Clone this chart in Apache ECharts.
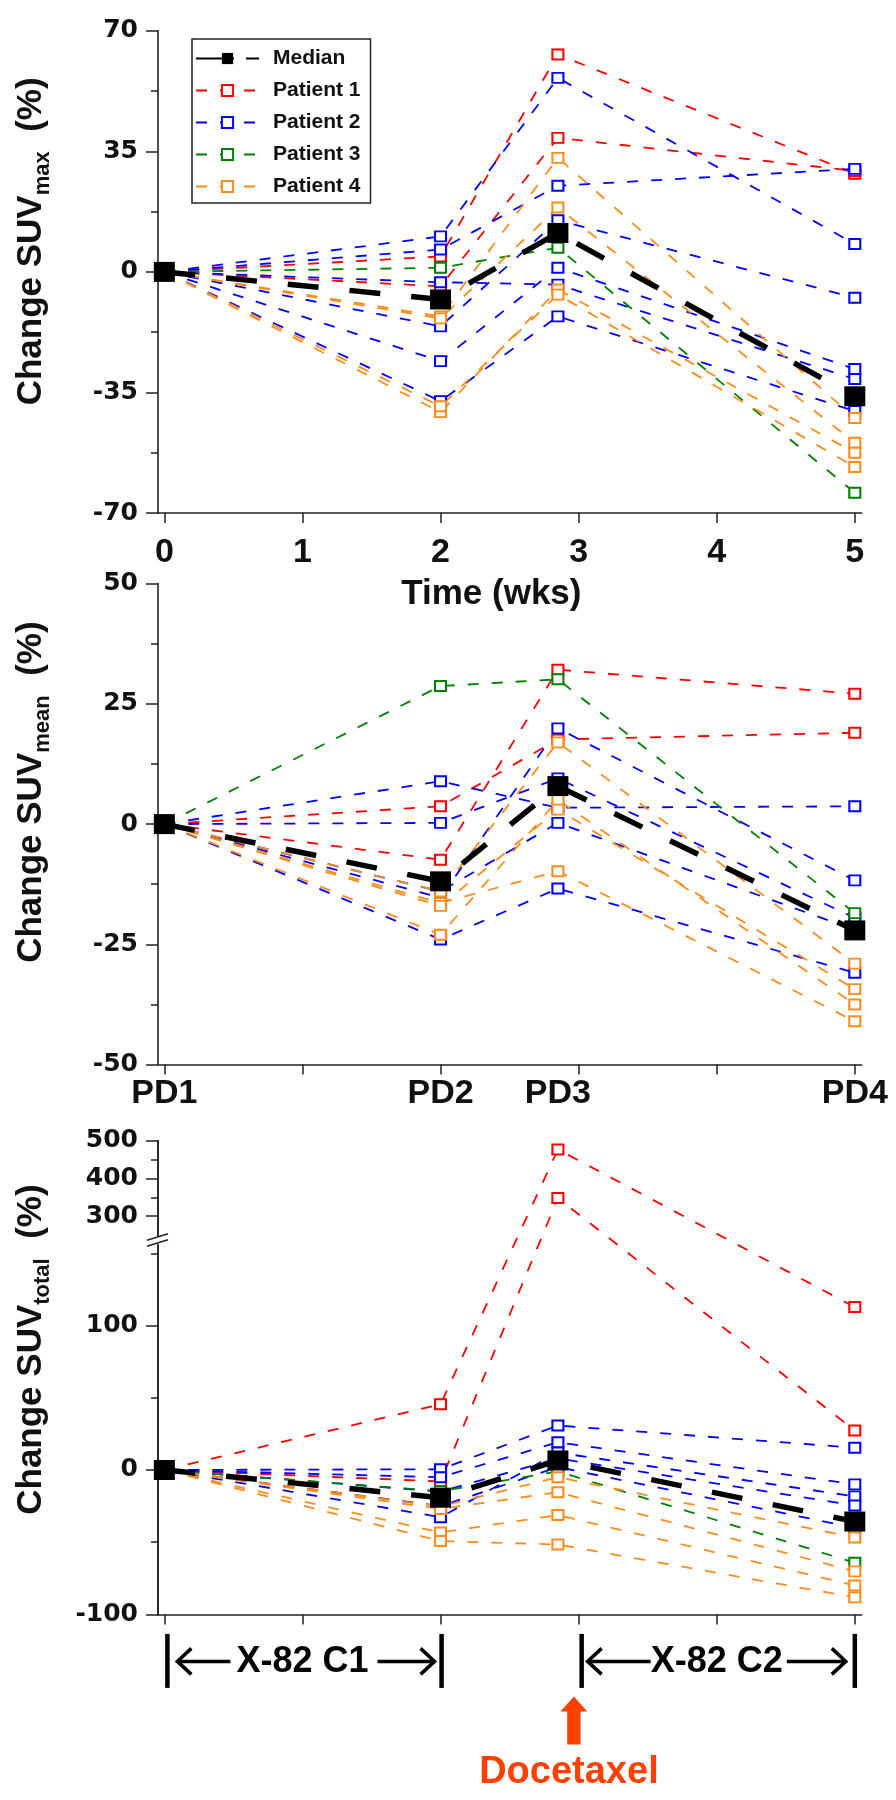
<!DOCTYPE html>
<html><head><meta charset="utf-8">
<script src="https://cdn.jsdelivr.net/npm/echarts@6/dist/echarts.min.js"></script>
<style>html,body{margin:0;padding:0;background:#fff}#c{width:896px;height:1800px}</style>
</head><body><div id="c"></div>
<script>
// ---------- data ----------
const weeks = [0, 2, 2.85, 5];
const weekTicks = [0, 1, 2, 3, 4, 5];
const visitLabels = ['PD1', 'PD2', 'PD3', 'PD4'];

// SUVmax change (%)
const maxMedian = [0, -8, 11.3, -36.1];
const maxP1 = [[0, 4.5, 63.1, 28.5], [0, -4.2, 38.9, 29.3]];
const maxP2 = [[0, 10.3, 56.3, 8.1], [0, 6.5, 25, 29.9], [0, -15.8, 15, -7.5], [0, -25.9, 1.2, -28.2], [0, -3, -3.7, -31.1], [0, -37.5, -12.9, -40.4]];
const maxP3 = [[0, 1.2, 7, -64.1]];
const maxP4 = [[0, -12.9, 33.1, -42.4], [0, -13.5, 18.7, -49.6], [0, -40.7, -5.1, -52.5], [0, -39, -6.6, -56.6]];

// SUVmean change (%)
const meanMedian = [0, -11.9, 7.9, -22.1];
const meanP1 = [[0, -7.4, 32.1, 27.1], [0, 3.7, 17.6, 19]];
const meanP2 = [[0, -15.3, 19.9, -11.7], [0, 0.25, 9.5, -19.5], [0, 8.9, 3.4, 3.7], [0, -14, 0.25, -22], [0, -24, -13.4, -30.9]];
const meanP3 = [[0, 28.7, 30.1, -18.5]];
const meanP4 = [[0, -14, 17, -29], [0, -16.4, -9.8, -41], [0, -23, 5, -37.5], [0, -17, 3, -34.3]];

// SUVtotal change (%)
const totMedian = [0, -19.2, 6.6, -35.7];
const totP1 = [[0, 45.5, 477, 112.8], [0, -8, 348, 27.3]];
const totP2 = [[0, 0.5, 30.8, 15.4], [0, -5, 19.2, -10], [0, -32.7, 12, -18.3], [0, -15, 8, -24.6], [0, -25, 2, -40]];
const totP3 = [[0, -14.7, -1, -64.2]];
const totP4 = [[0, -25.2, -5, -46.8], [0, -27, -15.4, -70.2], [0, -43.3, -31.2, -80], [0, -49.2, -51.6, -88.2]];

const maxTicks = [-70, -35, 0, 35, 70];
const meanTicks = [-50, -25, 0, 25, 50];
const totTicks = [-100, 0, 100, 300, 400, 500];
const totMinorTicks = [-50, 50, 150, 350, 450];

// ---------- broken-axis scale for SUVtotal ----------
const BRK_LO = 150, BRK_HI = 250, BRK_GAP = 12.7, UPPER_K = 0.2609;
const toAxis = v => v <= BRK_LO ? v : BRK_LO + BRK_GAP + (v - BRK_HI) * UPPER_K;
const fromAxis = d => d <= BRK_LO ? d : BRK_HI + (d - BRK_LO - BRK_GAP) / UPPER_K;

// ---------- styles ----------
const COLORS = { p1: '#ff0000', p2: '#0000ff', p3: '#008000', p4: '#ff8c1a' };
const DV = 'DejaVu Sans';
const LIB = 'Liberation Sans';
const AX = '#222';

const chart = echarts.init(document.getElementById('c'), null, { renderer: 'canvas' });

function lesionSeries(name, color, lesions, idx, map) {
  return lesions.map(l => ({
    type: 'line', name, xAxisIndex: idx, yAxisIndex: idx,
    data: weeks.map((w, i) => [w, map(l[i])]),
    symbol: 'emptyRect', symbolSize: [11, 10], showSymbol: true,
    lineStyle: { color, width: 1.8, type: [11, 13] },
    itemStyle: { color, borderColor: color, borderWidth: 1.5 },
    z: 2, clip: false, silent: true
  }));
}
function medianSeries(vals, idx, map) {
  return {
    type: 'line', name: 'Median', xAxisIndex: idx, yAxisIndex: idx,
    data: weeks.map((w, i) => [w, map(vals[i])]),
    symbol: 'rect', symbolSize: [21, 20],
    lineStyle: { color: '#000', width: 5.5, type: [31, 31] },
    itemStyle: { color: '#000' }, z: 5, clip: false, silent: true
  };
}
const id = v => v;

const panels = [
  { med: maxMedian, p: [maxP1, maxP2, maxP3, maxP4], map: id },
  { med: meanMedian, p: [meanP1, meanP2, meanP3, meanP4], map: id },
  { med: totMedian, p: [totP1, totP2, totP3, totP4], map: toAxis }
];
let series = [];
panels.forEach((pn, idx) => {
  series = series.concat(
    lesionSeries('Patient 1', COLORS.p1, pn.p[0], idx, pn.map),
    lesionSeries('Patient 2', COLORS.p2, pn.p[1], idx, pn.map),
    lesionSeries('Patient 3', COLORS.p3, pn.p[2], idx, pn.map),
    lesionSeries('Patient 4', COLORS.p4, pn.p[3], idx, pn.map),
    [medianSeries(pn.med, idx, pn.map)]
  );
});
// empty series that activates the overlay grid holding the minor ticks
series.push({ type: 'line', name: '_minor', xAxisIndex: 3, yAxisIndex: 3, data: [], silent: true, showSymbol: false });

const gridL = 158, gridW = 703.7;
const totGrid = { left: gridL, top: 1140.8, width: gridW, height: 473.6 };
const grids = [
  { left: gridL, top: 30.7, width: gridW, height: 482.4 },
  { left: gridL, top: 583.6, width: gridW, height: 481 },
  totGrid,
  Object.assign({}, totGrid)
];

const axisLine = { show: true, onZero: false, lineStyle: { color: AX, width: 1.6 } };
const tickStyle = { color: AX, width: 1.5 };
const font = (fam, size) => ({ fontFamily: fam, fontWeight: 'bold', fontSize: size, color: '#111' });

function xAxisCfg(idx, labelCfg) {
  return {
    type: 'value', gridIndex: idx, min: -0.046, max: 5.05,
    axisLine, splitLine: { show: false },
    axisTick: { show: true, customValues: weekTicks, length: 10, lineStyle: tickStyle },
    axisLabel: labelCfg
  };
}
const xAxes = [
  Object.assign(xAxisCfg(0, Object.assign({ customValues: weekTicks, margin: 23 }, font(LIB, 34))), {
    name: 'Time (wks)', nameLocation: 'middle', nameGap: 64,
    nameTextStyle: Object.assign({ padding: [0, 37, 0, 0] }, font(LIB, 35))
  }),
  xAxisCfg(1, Object.assign({ customValues: weeks, margin: 12,
    formatter: v => visitLabels[weeks.indexOf(v)] }, font(LIB, 34))),
  xAxisCfg(2, { show: false }),
  { type: 'value', gridIndex: 3, min: -0.046, max: 5.05, show: false }
];

function yName(sub) {
  return '{a|Change SUV}{b|' + sub + '}{a|  (%)}';
}
const nameRich = {
  a: font(LIB, 35),
  b: Object.assign(font(LIB, 22), { verticalAlign: 'bottom', padding: [0, 0, -5, 0] })
};

const yAxes = [
  {
    type: 'value', gridIndex: 0, min: -70, max: 70, interval: 35,
    axisLine, splitLine: { show: false },
    axisTick: { show: true, length: 12, lineStyle: tickStyle },
    minorTick: { show: true, splitNumber: 2, length: 7, lineStyle: tickStyle },
    axisLabel: Object.assign({ margin: 20 }, font(DV, 25)),
    name: yName('max'), nameLocation: 'middle', nameRotate: 90, nameGap: 109,
    nameTextStyle: { rich: nameRich, padding: [0, 0, 0, 61] }
  },
  {
    type: 'value', gridIndex: 1, min: -50, max: 50, interval: 25,
    axisLine, splitLine: { show: false },
    axisTick: { show: true, length: 12, lineStyle: tickStyle },
    minorTick: { show: true, splitNumber: 2, length: 7, lineStyle: tickStyle },
    axisLabel: Object.assign({ margin: 20 }, font(DV, 25)),
    name: yName('mean'), nameLocation: 'middle', nameRotate: 90, nameGap: 109,
    nameTextStyle: { rich: nameRich, padding: [0, 0, 0, 64] }
  },
  {
    type: 'value', gridIndex: 2, min: -100, max: toAxis(500), position: 'left',
    axisLine, splitLine: { show: false },
    axisTick: { show: true, length: 12, customValues: totTicks.map(toAxis), lineStyle: tickStyle },
    axisLabel: Object.assign({ margin: 20, customValues: totTicks.map(toAxis),
      formatter: v => String(Math.round(fromAxis(v))) }, font(DV, 25)),
    name: yName('total'), nameLocation: 'middle', nameRotate: 90, nameGap: 109,
    nameTextStyle: { rich: nameRich, padding: [0, 0, 0, 56] }
  },
  {
    type: 'value', gridIndex: 3, min: -100, max: toAxis(500), position: 'left',
    axisLine: { show: true, onZero: false, lineStyle: { color: AX, width: 1.6 } }, splitLine: { show: false },
    axisTick: { show: true, length: 7, customValues: totMinorTicks.map(toAxis), lineStyle: tickStyle },
    axisLabel: { show: true, customValues: totMinorTicks.map(toAxis), formatter: () => '', fontSize: 1 }
  }
];

chart.setOption({
  animation: false,
  backgroundColor: '#fff',
  grid: grids,
  xAxis: xAxes,
  yAxis: yAxes,
  legend: {
    data: [{ name: 'Median', lineStyle: { type: [38, 12, 13, 40] } }, 'Patient 1', 'Patient 2', 'Patient 3', 'Patient 4'],
    left: 192, top: 39, orient: 'vertical',
    itemWidth: 63, itemHeight: 14, itemGap: 11,
    padding: [9, 10, 6, 3], borderColor: '#222', borderWidth: 1.5,
    selectedMode: false,
    textStyle: Object.assign(font(LIB, 21), { padding: [0, 0, 0, 9] })
  },
  series
});

// ---------- annotations below the SUVtotal panel ----------
const xp = v => chart.convertToPixel({ xAxisIndex: 2 }, v);
const yBase = chart.convertToPixel({ yAxisIndex: 2 }, -100);
const g = [];
function bar(x) { g.push({ type: 'rect', shape: { x: x - 2.2, y: yBase + 19.5, width: 4.5, height: 54 }, style: { fill: '#000' } }); }
function arrow(x1, x2, y) {
  const s = Math.sign(x2 - x1);
  g.push({ type: 'line', shape: { x1, y1: y, x2: x2 - s * 2, y2: y }, style: { stroke: '#000', lineWidth: 3.5 } });
  g.push({ type: 'polyline', shape: { points: [[x2 - s * 14, y - 13], [x2, y], [x2 - s * 14, y + 13]] }, style: { stroke: '#000', lineWidth: 3.5, fill: null, lineJoin: 'miter' } });
}
function label(text, x, y, color, size) {
  g.push({ type: 'text', x, y, style: { text, fill: color, font: 'bold ' + size + 'px "Liberation Sans"', align: 'center', verticalAlign: 'middle' } });
}
const ay = yBase + 47;
const x0 = xp(0), x2 = xp(2), x3 = xp(3), x5 = xp(5);
bar(x0 + 3); bar(x2 + 1); bar(x3 + 3); bar(x5);
arrow(x0 + 66, x0 + 13, ay); label('X-82 C1', (x0 + x2) / 2, ay + 1, '#000', 36); arrow(x2 - 63, x2 - 6, ay);
arrow(x3 + 72, x3 + 9, ay); label('X-82 C2', (x3 + x5) / 2, ay + 1, '#000', 36); arrow(x5 - 68, x5 - 9, ay);
// Docetaxel arrow
const dx = x3 - 4.7;
g.push({ type: 'polygon', shape: { points: [[dx - 6.7, yBase + 130], [dx - 6.7, yBase + 97], [dx - 13.4, yBase + 97], [dx, yBase + 82], [dx + 13.4, yBase + 97], [dx + 6.7, yBase + 97], [dx + 6.7, yBase + 130]] }, style: { fill: '#ff4000' } });
label('Docetaxel', dx - 5, yBase + 158, '#ff4000', 38);
// axis break mark
const yb = chart.convertToPixel({ yAxisIndex: 2 }, BRK_LO + BRK_GAP / 2) - 4;
g.push({ type: 'rect', shape: { x: gridL - 3, y: yb - 4, width: 6, height: 8 }, style: { fill: '#fff' }, z: 100 });
g.push({ type: 'line', shape: { x1: gridL - 11, y1: yb, x2: gridL + 10, y2: yb - 6.5 }, style: { stroke: AX, lineWidth: 1.5 }, z: 101 });
g.push({ type: 'line', shape: { x1: gridL - 11, y1: yb + 6, x2: gridL + 10, y2: yb - 0.5 }, style: { stroke: AX, lineWidth: 1.5 }, z: 101 });
chart.setOption({ graphic: g });
</script>
</body></html>
